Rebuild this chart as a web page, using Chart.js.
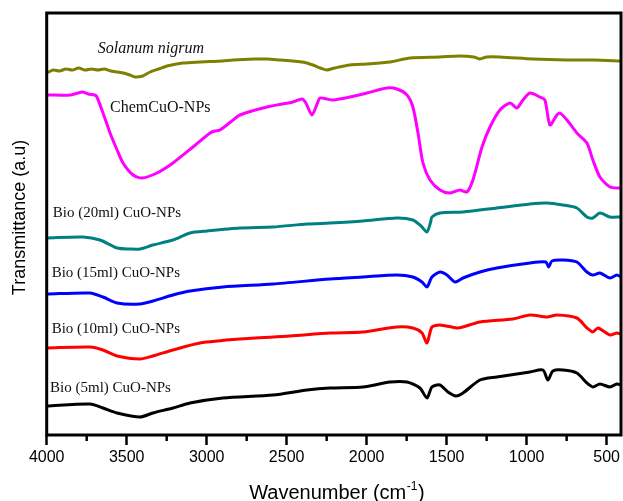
<!DOCTYPE html>
<html>
<head>
<meta charset="utf-8">
<script src="https://cdn.jsdelivr.net/npm/chart.js@4/dist/chart.umd.min.js"></script>
<style>
  html, body { margin: 0; padding: 0; background: #ffffff; }
  #wrap { width: 623px; height: 501px; }
</style>
</head>
<body>
<div id="wrap"><canvas id="c" width="623" height="501"></canvas></div>
<script>
// ---- data (wavenumber in cm^-1, transmittance in arbitrary offset units) ----
const xTickValues = [4000, 3500, 3000, 2500, 2000, 1500, 1000, 500];
const xMinorTickValues = [3750, 3250, 2750, 2250, 1750, 1250, 750];

const seriesNames = ['Solanum nigrum', 'ChemCuO-NPs', 'Bio (20ml) CuO-NPs', 'Bio (15ml) CuO-NPs', 'Bio (10ml) CuO-NPs', 'Bio (5ml) CuO-NPs'];

const solanumWn = [3998,3960,3920,3880,3840,3800,3760,3720,3680,3640,3600,3560,3520,3480,3448,3400,3354,3300,3248,3150,3042,2900,2836,2700,2623,2540,2461,2400,2336,2290,2248,2200,2104,2000,1854,1729,1542,1417,1330,1292,1250,1167,961,748,580,410];
const solanumT  = [362,365,364,366,365,367,365,366,365,366,364,363,362,360,358,359,363,366,369,372,373,374,375,376,376,375,374,373,370,367,365,367,370,371,373,377,378,379,378,376,378,378,376,375,375,374];

const chemWn = [3998,3850,3779,3740,3700,3686,3648,3604,3560,3523,3460,3404,3311,3211,3086,2979,2950,2917,2850,2792,2623,2461,2404,2380,2342,2310,2292,2250,2211,2104,1998,1873,1811,1748,1711,1679,1648,1604,1542,1479,1417,1373,1336,1279,1229,1167,1104,1061,1023,979,917,886,854,811,792,748,686,623,586,542,479,410];
const chemT  = [340,340,343,341,340,338,322,302,285,272,260,257,262,272,288,302,304,305,313,320,328,333,336,332,320,331,337,336,335,338,342,347,346,340,328,302,272,255,245,242,245,243,255,288,308,325,332,327,335,342,338,335,310,320,322,315,302,292,275,258,248,247];

const bio20Wn = [3998,3773,3667,3560,3479,3417,3336,3211,3104,2998,2792,2586,2373,2229,2023,1811,1711,1660,1623,1600,1592,1542,1398,1186,979,873,773,686,623,586,542,479,410];
const bio20T  = [197,198,195,187,186,186,190,195,202,204,207,208,211,212,214,217,215,209,203,213,218,222,223,227,231,232,230,227,218,217,222,218,218];

const bio15Wn = [3998,3729,3648,3560,3417,3336,3211,3104,2898,2586,2229,2023,1811,1711,1654,1623,1592,1542,1498,1448,1398,1292,1186,979,880,862,842,773,686,623,586,542,479,436,410];
const bio15T  = [141,142,138,132,131,134,140,144,148,151,156,158,160,158,153,148,158,163,160,153,157,163,167,172,173,168,174,175,173,163,160,162,157,160,158];

const bio10Wn = [3998,3729,3648,3560,3417,3336,3211,3042,2792,2479,2229,2023,1811,1711,1654,1623,1592,1542,1436,1398,1292,1086,979,873,811,686,623,586,554,479,436,410];
const bio10T  = [87,88,85,79,76,79,85,92,96,99,102,103,108,107,102,92,108,110,107,108,113,116,120,118,120,117,107,103,107,100,102,101];

const bio5Wn = [3998,3729,3648,3560,3417,3336,3211,3104,2898,2586,2373,2229,2023,1854,1748,1667,1623,1592,1542,1492,1442,1398,1292,1186,979,898,867,836,773,686,623,586,542,479,436,410];
const bio5T  = [29,31,27,22,18,22,27,32,37,40,45,47,48,53,53,47,37,48,50,43,39,42,55,58,63,65,55,64,65,62,52,48,51,48,51,50];

// ---- styling ----
const seriesColors = ['#7f7f00', '#ff00ff', '#008080', '#0000ff', '#ff0000', '#000000'];
// label anchor (left, baseline) in data coordinates
const labelAnchorWn = [3681, 3604, 3962, 3969, 3969, 3979];
const labelAnchorT  = [381.7, 322.7, 218, 158.3, 101.7, 42.7];
const labelFonts = ['italic 16px "Liberation Serif", "Times New Roman", serif',
                    '16px "Liberation Serif", "Times New Roman", serif',
                    '15px "Liberation Serif", "Times New Roman", serif',
                    '15px "Liberation Serif", "Times New Roman", serif',
                    '15px "Liberation Serif", "Times New Roman", serif',
                    '15px "Liberation Serif", "Times New Roman", serif'];

const wnArrays = [solanumWn, chemWn, bio20Wn, bio15Wn, bio10Wn, bio5Wn];
const tArrays  = [solanumT, chemT, bio20T, bio15T, bio10T, bio5T];

const datasets = seriesNames.map((name, i) => ({
  label: name,
  data: wnArrays[i].map((x, j) => ({ x: x, y: tArrays[i][j] })),
  borderColor: seriesColors[i],
  backgroundColor: seriesColors[i],
  borderWidth: 3,
  borderJoinStyle: 'round',
  borderCapStyle: 'round',
  pointRadius: 0,
  tension: 0.25,
  fill: false
}));

const SANS = '"Liberation Sans", Arial, sans-serif';

const decor = {
  id: 'decor',
  afterDatasetsDraw(chart) {
    const ctx = chart.ctx;
    const a = chart.chartArea;
    const xs = chart.scales.x, ys = chart.scales.y;
    ctx.save();
    // frame
    ctx.strokeStyle = '#000';
    ctx.lineWidth = 3;
    ctx.strokeRect(a.left, a.top, a.right - a.left, a.bottom - a.top);
    // minor ticks
    ctx.lineWidth = 2.5;
    ctx.beginPath();
    xMinorTickValues.forEach(v => {
      const px = xs.getPixelForValue(v);
      ctx.moveTo(px, a.bottom);
      ctx.lineTo(px, a.bottom + 6);
    });
    ctx.stroke();
    // series labels
    ctx.fillStyle = '#111';
    ctx.textAlign = 'left';
    ctx.textBaseline = 'alphabetic';
    seriesNames.forEach((name, i) => {
      ctx.font = labelFonts[i];
      ctx.fillText(name, xs.getPixelForValue(labelAnchorWn[i]), ys.getPixelForValue(labelAnchorT[i]));
    });
    // y title
    ctx.fillStyle = '#000';
    ctx.save();
    ctx.translate(25, 217.5);
    ctx.rotate(-Math.PI / 2);
    ctx.font = '18px ' + SANS;
    ctx.textAlign = 'center';
    ctx.fillText('Transmittance (a.u)', 0, 0);
    ctx.restore();
    // x title with superscript
    const main1 = 'Wavenumber (cm', sup = '-1', main2 = ')';
    ctx.font = '20px ' + SANS;
    const w1 = ctx.measureText(main1).width, w3 = ctx.measureText(main2).width;
    ctx.font = '12px ' + SANS;
    const w2 = ctx.measureText(sup).width;
    const total = w1 + w2 + w3 + 1;
    let x0 = (a.left + a.right) / 2 + 3 - total / 2;
    const base = 499;
    ctx.textAlign = 'left';
    ctx.font = '20px ' + SANS;
    ctx.fillText(main1, x0, base);
    ctx.font = '12px ' + SANS;
    ctx.fillText(sup, x0 + w1 + 0.5, base - 9);
    ctx.font = '20px ' + SANS;
    ctx.fillText(main2, x0 + w1 + w2 + 1, base);
    ctx.restore();
  }
};

new Chart(document.getElementById('c'), {
  type: 'line',
  data: { datasets: datasets },
  plugins: [decor],
  options: {
    responsive: false,
    devicePixelRatio: 1,
    animation: false,
    layout: { padding: { top: 13, right: 1.3, left: 0, bottom: 0 } },
    plugins: { legend: { display: false }, tooltip: { enabled: false } },
    scales: {
      x: {
        type: 'linear',
        reverse: true,
        min: 410,
        max: 4000,
        afterBuildTicks(scale) { scale.ticks = xTickValues.map(v => ({ value: v })); },
        afterFit(scale) { scale.height = 66; },
        border: { display: false },
        grid: { display: true, drawOnChartArea: false, drawTicks: true, tickLength: 10, tickWidth: 2.5, tickColor: '#000' },
        ticks: { color: '#000', font: { size: 16, family: SANS }, padding: 3, maxRotation: 0, autoSkip: false,
                 callback: (v) => String(v) }
      },
      y: {
        min: 0,
        max: 422,
        afterFit(scale) { scale.width = 46.7; },
        border: { display: false },
        grid: { display: false },
        ticks: { display: false }
      }
    }
  }
});
</script>
</body>
</html>
